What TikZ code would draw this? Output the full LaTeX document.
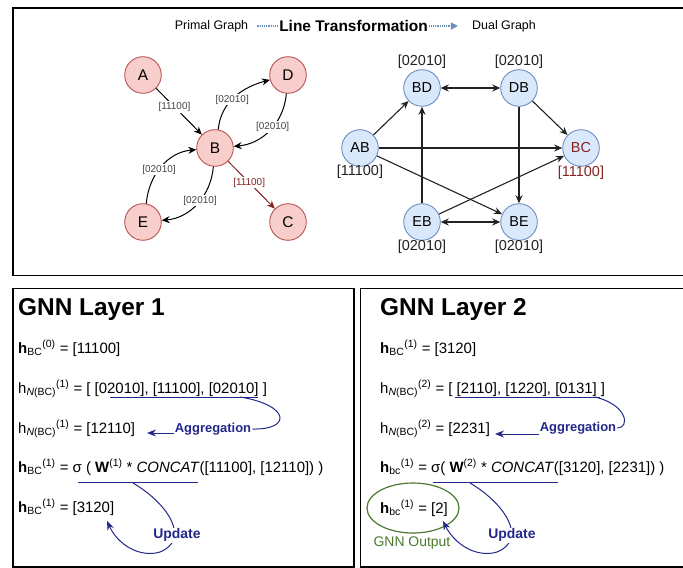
\documentclass[tikz,border=0pt]{standalone}
\usepackage{fontspec}
\setmainfont{Liberation Sans}
\usetikzlibrary{arrows.meta,shapes.geometric}

\definecolor{pinkfill}{HTML}{F8CECC}
\definecolor{pinkdraw}{HTML}{B85450}
\definecolor{bluefill}{HTML}{DAE8FC}
\definecolor{bluedraw}{HTML}{6C8EBF}
\definecolor{darkred}{HTML}{862222}
\definecolor{navy}{HTML}{22288A}
\definecolor{leaf}{HTML}{4A7A2C}
\definecolor{labelgray}{HTML}{444444}
\definecolor{edgegray}{HTML}{222222}

\newcommand\mysub[1]{\textsubscript{#1}}
\newcommand\mysup[1]{\textsuperscript{#1}}
\newcommand\setfs[1]{\fontsize{#1}{#1}\selectfont}

\begin{document}
\begin{tikzpicture}[x=1bp,y=1bp,
  frame/.style={draw=black,line width=1.2bp},
  title/.style={font=\setfs{12.5},inner sep=0pt},
  pnode/.style={circle,draw=pinkdraw,fill=pinkfill,line width=0.9bp,minimum size=36.6bp,inner sep=0pt,font=\setfs{15.5}},
  dnode/.style={circle,draw=bluedraw,fill=bluefill,line width=0.9bp,minimum size=36.6bp,inner sep=0pt,font=\setfs{14.5}},
  pedge/.style={draw=black,line width=1bp,-{Stealth[length=8bp,width=7bp]}},
  dedge/.style={draw=edgegray,line width=1.1bp,-{Stealth[length=8bp,width=7bp]}},
  plabel/.style={fill=white,inner sep=1pt,font=\setfs{10},text=labelgray},
  dlabel/.style={inner sep=0pt,font=\setfs{14.5},text=edgegray},
  head/.style={anchor=base west,inner sep=0pt,font=\bfseries\setfs{24.5}},
  formula/.style={anchor=base west,inner sep=0pt,font=\setfs{15}},
  uline/.style={draw=navy,line width=1bp},
  note/.style={draw=navy,line width=1bp},
  notearrow/.style={draw=navy,line width=1bp,-{Stealth[length=9bp,width=7bp]}},
  notetext/.style={fill=white,inner sep=1pt,font=\bfseries\setfs{13},text=navy}
]
\useasboundingbox (0,0) rectangle (683,-568);

% frames
\draw[frame] (683,-8) -- (13,-8) -- (13,-275.5) -- (683,-275.5);
\draw[frame] (13,-288.5) rectangle (354,-567);
\draw[frame] (683,-288.5) -- (360.5,-288.5) -- (360.5,-567) -- (683,-567);

% heading of the upper panel
\node[title] (pg) at (211.5,-26) {Primal Graph};
\node[title] (dg) at (504,-26) {Dual Graph};
\draw[draw=bluedraw,line width=1.2bp,densely dotted,-{Triangle[length=7bp,width=7bp]},
      shorten <=9bp,shorten >=14bp] (pg.east) -- (dg.west);
\node[fill=white,inner sep=1pt,font=\bfseries\setfs{15.5}] (lt) at (353.5,-26) {Line Transformation};

% primal graph
\node[pnode] (A) at (143,-75) {A};
\node[pnode] (D) at (288,-75) {D};
\node[pnode] (B) at (215,-148) {B};
\node[pnode] (E) at (143,-222) {E};
\node[pnode] (C) at (288,-222) {C};

\draw[pedge] (A) -- node[plabel,pos=0.4] {[11100]} (B);
\draw[pedge] (B.80) to[out=85,in=195] node[plabel,pos=0.45] {[02010]} (D.195);
\draw[pedge] (D.265) to[out=265,in=5] node[plabel,pos=0.45] {[02010]} (B.5);
\draw[pedge] (E.80) to[out=85,in=185] node[plabel,pos=0.45] {[02010]} (B.185);
\draw[pedge] (B.265) to[out=265,in=5] node[plabel,pos=0.45] {[02010]} (E.5);
\draw[pedge,draw=darkred] (B) -- node[plabel,pos=0.45,text=darkred] {[11100]} (C);

% dual graph
\node[dnode] (BD) at (422,-88) {BD};
\node[dnode] (DB) at (519,-88) {DB};
\node[dnode] (AB) at (360,-148) {AB};
\node[dnode,text=darkred] (BC) at (581,-148) {BC};
\node[dnode] (EB) at (422,-222) {EB};
\node[dnode] (BE) at (519,-222) {BE};

\node[dlabel] (lBD) at (422,-62) {[02010]};
\node[dlabel] (lDB) at (519,-62) {[02010]};
\node[dlabel] (lAB) at (360,-172) {[11100]};
\node[dlabel,text=darkred] (lBC) at (581,-173) {[11100]};
\node[dlabel] (lEB) at (422,-247) {[02010]};
\node[dlabel] (lBE) at (519,-247) {[02010]};

\draw[dedge,{Stealth[length=8bp,width=7bp]}-{Stealth[length=8bp,width=7bp]}] (BD) -- (DB);
\draw[dedge,{Stealth[length=8bp,width=7bp]}-{Stealth[length=8bp,width=7bp]}] (EB) -- (BE);
\draw[dedge] (AB) -- (BD);
\draw[dedge] (AB) -- (BC);
\draw[dedge] (AB) -- (BE);
\draw[dedge] (EB) -- (BD);
\draw[dedge] (EB) -- (BC);
\draw[dedge] (DB) -- (BC);
\draw[dedge] (DB) -- (BE);

% GNN layer 1
\node[head] (g1) at (18,-315) {GNN Layer 1};
\node[formula] (a1) at (18,-353) {\textbf{h}\mysub{BC}\mysup{(0)} = [11100]};
\node[formula] (a2) at (18,-393) {h\mysub{\textit{N}(BC)}\mysup{(1)} = [ [02010], [11100], [02010] ]};
\node[formula] (a3) at (18,-433) {h\mysub{\textit{N}(BC)}\mysup{(1)} = [12110]};
\node[formula] (a4) at (18,-472) {\textbf{h}\mysub{BC}\mysup{(1)} = σ ( \textbf{W}\mysup{(1)} * \textit{CONCAT}([11100], [12110]) )};
\node[formula] (a5) at (18,-512) {\textbf{h}\mysub{BC}\mysup{(1)} = [3120]};

\draw[uline] (110,-397) -- (258,-397);
\draw[uline] (78,-482) -- (198,-482);

\coordinate (ag1s) at (240,-397);
\coordinate (ag1t) at (147,-433);
\node[notetext] (ag1) at (213,-429) {Aggregation};
\draw[note] (ag1s) .. controls (290,-405) and (292,-430) .. (ag1.east);
\draw[notearrow] (ag1.west |- ag1t) -- (ag1t);

\coordinate (up1s) at (133,-483);
\coordinate (up1t) at (107,-521);
\draw[notearrow] (up1s) .. controls (170,-505) and (190,-540) .. (160,-552)
                 .. controls (140,-558) and (118,-545) .. (up1t);
\node[notetext,font=\bfseries\setfs{14}] (up1) at (177,-535) {Update};

% GNN layer 2
\node[head] (g2) at (380,-315) {GNN Layer 2};
\node[formula] (b1) at (380,-353) {\textbf{h}\mysub{BC}\mysup{(1)} = [3120]};
\node[formula] (b2) at (380,-393) {h\mysub{\textit{N}(BC)}\mysup{(2)} = [ [2110], [1220], [0131] ]};
\node[formula] (b3) at (380,-433) {h\mysub{\textit{N}(BC)}\mysup{(2)} = [2231]};
\node[formula] (b4) at (380,-472) {\textbf{h}\mysub{bc}\mysup{(1)} = σ( \textbf{W}\mysup{(2)} * \textit{CONCAT}([3120], [2231]) )};
\node[formula] (b5) at (380,-513) {\textbf{h}\mysub{bc}\mysup{(1)} = [2]};

\draw[uline] (455,-397) -- (600,-397);
\draw[uline] (433,-482) -- (558,-482);

\coordinate (ag2s) at (595,-397);
\coordinate (ag2t) at (495,-434);
\node[notetext] (ag2) at (578,-428) {Aggregation};
\draw[note] (ag2s) .. controls (628,-405) and (630,-428) .. (ag2.east);
\draw[notearrow] (ag2.west |- ag2t) -- (ag2t);

\node[draw=leaf,line width=1.2bp,ellipse,minimum width=92bp,minimum height=50bp] (out) at (413,-508) {};
\node[inner sep=0pt,font=\setfs{14},text=leaf] (outl) at (412,-543) {GNN Output};

\coordinate (up2s) at (470,-483);
\coordinate (up2t) at (443,-521);
\draw[notearrow] (up2s) .. controls (507,-505) and (527,-540) .. (497,-552)
                 .. controls (477,-558) and (455,-545) .. (up2t);
\node[notetext,font=\bfseries\setfs{14}] (up2) at (512,-535) {Update};
\end{tikzpicture}
\end{document}
